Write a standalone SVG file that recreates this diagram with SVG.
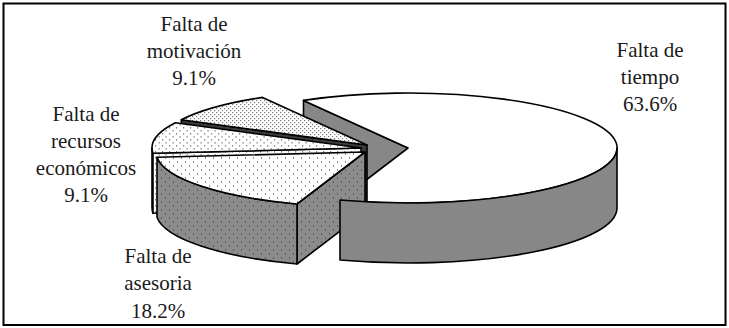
<svg xmlns="http://www.w3.org/2000/svg" width="729" height="328" viewBox="0 0 729 328">
<style>
.lbl{font-family:"Liberation Serif","Times New Roman",serif;font-size:21px;fill:#1a1a1a;text-anchor:middle}
.e{stroke:#000;stroke-width:1.6;stroke-linejoin:round}
.gray{fill:#878787}
.white{fill:#fff}
</style>
<defs>
<pattern id="pA" width="8" height="8" patternUnits="userSpaceOnUse">
<rect width="8" height="8" fill="#fff"/>
<rect x="1" y="1" width="1" height="2" fill="#8a8a8a"/>
<rect x="5" y="5" width="1" height="2" fill="#8a8a8a"/>
</pattern>
<pattern id="pC" width="7" height="6" patternUnits="userSpaceOnUse">
<rect width="7" height="6" fill="#fff"/>
<rect x="1" y="1" width="1.2" height="1.6" fill="#8a8a8a"/>
<rect x="4.5" y="4" width="1.2" height="1.6" fill="#8a8a8a"/>
</pattern>
<pattern id="pB" width="8" height="8" patternUnits="userSpaceOnUse">
<rect width="8" height="8" fill="#8c8c8c"/>
<rect x="1" y="1" width="1" height="2" fill="#5e5e5e"/>
<rect x="5" y="5" width="1" height="2" fill="#5e5e5e"/>
</pattern>
<pattern id="pD" width="4" height="4" patternUnits="userSpaceOnUse">
<rect width="4" height="4" fill="#fff"/>
<rect x="0" y="0" width="1.2" height="1.2" fill="#7a7a7a"/>
<rect x="2" y="2" width="1.2" height="1.2" fill="#7a7a7a"/>
</pattern>
</defs>
<rect x="3.5" y="3.5" width="722" height="321.5" fill="#fff" stroke="#000" stroke-width="2"/>

<g id="slice-tiempo-back">
<path class="e gray" d="M408,148 L303.5,100.4 L303.5,160.4 L408,208 Z"/>
<path class="e white" d="M408,148 L303.5,100.4 A209,55 0 1 1 340,200 Z"/>
</g>
<g id="slice-motivacion">
<path class="e" fill="#3a3a3a" d="M367,145 L181.3,119.8 L181.3,179.8 L367,205 Z"/>
<path class="e" fill="url(#pD)" d="M367,145 L181.3,119.8 A209,55 0 0 1 262.5,97.4 Z"/>
</g>
<g id="slice-recursos">
<path class="e" fill="url(#pC)" d="M153,153.3 A209,55 0 0 1 152,148 L152,208 A209,55 0 0 0 153,213.3 Z"/>
<path class="e" fill="url(#pC)" d="M361,148 L153,153.3 L153,213.3 L361,208 Z"/>
<path class="e" fill="url(#pC)" d="M361,148 L153,153.3 A209,55 0 0 1 175.3,122.8 Z"/>
</g>
<g id="slice-asesoria">
<path class="e" fill="url(#pB)" d="M365,152 L297,204 L297,264 L365,212 Z"/>
<path class="e" fill="url(#pB)" d="M297,204 A209,55 0 0 1 157,157.3 L157,217.3 A209,55 0 0 0 297,264 Z"/>
<path class="e" fill="url(#pA)" d="M365,152 L297,204 A209,55 0 0 1 157,157.3 Z"/>
</g>
<g id="slice-tiempo-front">
<path class="e gray" d="M617,148 A209,55 0 0 1 340,200 L340,260 A209,55 0 0 0 617,208 Z"/>
</g>

<g id="labels">
<text class="lbl" x="194" y="31">Falta de</text>
<text class="lbl" x="194" y="58">motivación</text>
<text class="lbl" x="194" y="85">9.1%</text>
<text class="lbl" x="650" y="57">Falta de</text>
<text class="lbl" x="650" y="84">tiempo</text>
<text class="lbl" x="650" y="111">63.6%</text>
<text class="lbl" x="86" y="121">Falta de</text>
<text class="lbl" x="86" y="148">recursos</text>
<text class="lbl" x="86" y="175">económicos</text>
<text class="lbl" x="86" y="202">9.1%</text>
<text class="lbl" x="158" y="263">Falta de</text>
<text class="lbl" x="158" y="290">asesoria</text>
<text class="lbl" x="158" y="318">18.2%</text>
</g>
</svg>
